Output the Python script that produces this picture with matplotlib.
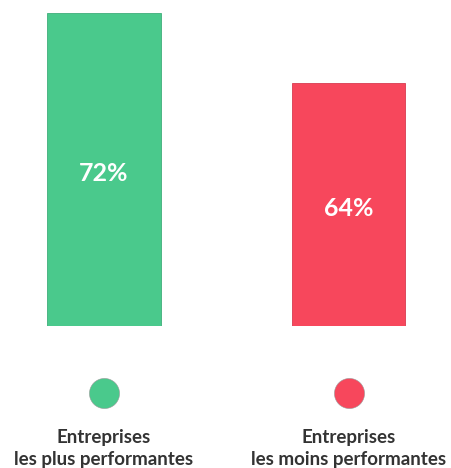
import matplotlib.pyplot as plt
from matplotlib import transforms

# données
categories = ['Entreprises\nles plus performantes', 'Entreprises\nles moins performantes']
values = [72, 64]
labels = ['72%', '64%']
colors = ['#4ac98c', '#f7475c']

fig = plt.figure(figsize=(4.51, 4.68), dpi=100)
ax = fig.add_axes([0, 0.3034, 1, 0.6688])

x = [0, 1]
ax.bar(x, values, width=0.464, color=colors, edgecolor=['#3fae7a', '#d83c50'], linewidth=0.6)
ax.set_xlim(-0.425, 1.419)
ax.set_ylim(36.2, 72)
ax.axis('off')

# pourcentages au milieu des barres
for xi, v, lab in zip(x, values, labels):
    ax.text(xi, (v + 36.2) / 2 - 0.45, lab, color='white', fontsize=18, fontweight='bold',
            ha='center', va='center', family='Lato')

# pastilles + libellés sous les barres
trans = transforms.blended_transform_factory(ax.transData, ax.transAxes)
for xi, c, cat in zip(x, colors, categories):
    ax.scatter([xi], [-0.215], s=470, color=c, edgecolors='#999999', linewidths=0.4,
               transform=trans, clip_on=False)
    l1, l2 = cat.split('\n')
    ax.text(xi, -0.357, l1, transform=trans, ha='center', va='center',
            fontsize=13.5, fontweight='bold', color='#333333', family='Lato')
    ax.text(xi, -0.425, l2, transform=trans, ha='center', va='center',
            fontsize=13.5, fontweight='bold', color='#333333', family='Lato')

fig.savefig('out.png', dpi=100)
